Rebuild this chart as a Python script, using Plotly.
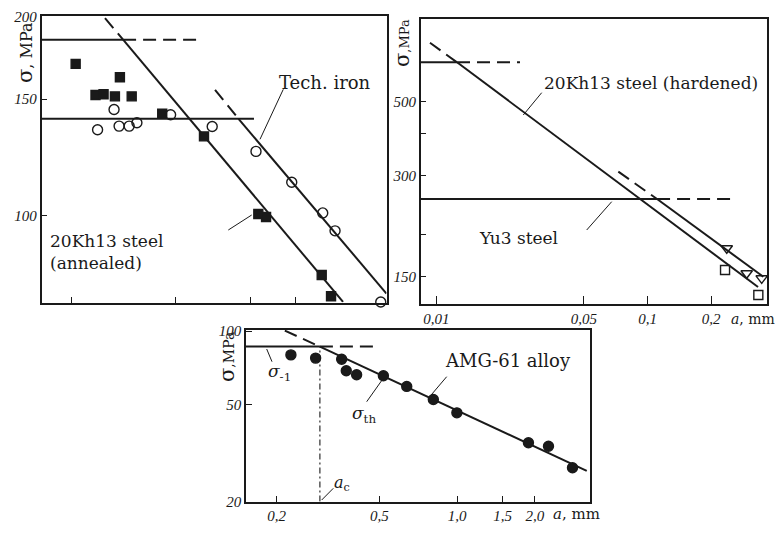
import plotly.graph_objects as go

W, H = 779, 533

# ---------------- Panel 1: 20Kh13 steel (annealed) and Tech. iron ----------------
p1_annealed_a = [0.0144, 0.0231, 0.0178, 0.0194, 0.0219, 0.0262, 0.0363, 0.0567, 0.1013, 0.1100, 0.1993, 0.2202]
p1_annealed_s = [169.6, 161.9, 152.2, 152.6, 151.5, 151.5, 142.6, 131.8, 100.6, 99.6, 81.4, 75.6]
p1_iron_a = [0.0217, 0.0182, 0.0229, 0.0255, 0.0277, 0.0397, 0.0619, 0.0988, 0.1447, 0.2015, 0.2298, 0.3744]
p1_iron_s = [144.7, 134.9, 136.6, 136.6, 138.2, 142.1, 136.4, 125.1, 112.4, 101.0, 94.9, 74.1]
# fatigue limits (horizontal) and threshold lines
p1_ann_lim_solid_a = [0.0100, 0.0239]
p1_ann_lim_dash_a = [0.0239, 0.0526]
p1_ann_lim_s = [184.5, 184.5]
p1_iron_lim_a = [0.0100, 0.0967]
p1_iron_lim_s = [140.1, 140.1]
p1_ann_th_dash_a = [0.0197, 0.0239]
p1_ann_th_dash_s = [198.9, 184.5]
p1_ann_th_solid_a = [0.0239, 0.2503]
p1_ann_th_solid_s = [184.5, 74.1]
p1_iron_th_dash_a = [0.0638, 0.0820]
p1_iron_th_dash_s = [155.0, 140.1]
p1_iron_th_solid_a = [0.0820, 0.3980]
p1_iron_th_solid_s = [140.1, 76.3]
p1_xticks = [0.0138, 0.042, 0.093, 0.15]
p1_yticks = [100, 150, 200]
p1_yticktext = ["100", "150", "200"]

# ---------------- Panel 2: 20Kh13 steel (hardened) and Yu3 steel ----------------
p2_hard_a = [0.2327, 0.3345]
p2_hard_s = [156.7, 131.9]
p2_yu3_a = [0.2371, 0.2947, 0.3471]
p2_yu3_s = [182.0, 153.2, 148.0]
p2_hard_lim_solid_a = [0.00843, 0.01253]
p2_hard_lim_dash_a = [0.01253, 0.02489]
p2_hard_lim_s = [654, 654]
p2_hard_th_dash_a = [0.00933, 0.01253]
p2_hard_th_dash_s = [748.5, 654]
p2_hard_th_solid_a = [0.01253, 0.3334]
p2_hard_th_solid_s = [654, 139.4]
p2_yu3_lim_solid_a = [0.00843, 0.1109]
p2_yu3_lim_dash_a = [0.1109, 0.2595]
p2_yu3_lim_s = [255.4, 255.4]
p2_yu3_th_dash_a = [0.0727, 0.1109]
p2_yu3_th_dash_s = [308.2, 255.4]
p2_yu3_th_solid_a = [0.1109, 0.3532]
p2_yu3_th_solid_s = [255.4, 149.6]
p2_xticks = [0.01, 0.05, 0.1, 0.2]
p2_xticktext = ["0,01", "0,05", "0,1", "0,2"]
p2_yticks = [150, 300, 500]
p2_yticktext = ["150", "300", "500"]
p2_yminor = [200, 400]

# ---------------- Panel 3: AMG-61 alloy ----------------
p3_a = [0.227, 0.283, 0.357, 0.372, 0.408, 0.518, 0.638, 0.809, 0.998, 1.89, 2.26, 2.80]
p3_s = [79.9, 77.5, 76.7, 68.8, 66.2, 65.6, 59.3, 52.4, 46.2, 34.8, 33.7, 27.5]
p3_lim_solid_a = [0.152, 0.294]
p3_lim_dash_a = [0.294, 0.473]
p3_lim_s = [86.4, 86.4]
p3_th_dash_a = [0.215, 0.294]
p3_th_dash_s = [100.5, 86.4]
p3_th_solid_a = [0.294, 3.18]
p3_th_solid_s = [86.4, 26.7]
p3_ac_a = [0.294, 0.294]
p3_ac_s = [20, 86.4]
p3_xticks = [0.2, 0.5, 1.0, 1.5, 2.0]
p3_xticktext = ["0,2", "0,5", "1,0", "1,5", "2,0"]
p3_yticks = [20, 50, 100]
p3_yticktext = ["20", "50", "100"]

INK = "#1a1a1a"
DASH = "13px,7px"


def px_dom(a, b):
    return [a / W, b / W]


def py_dom(top, bottom):
    return [1 - bottom / H, 1 - top / H]


fig = go.Figure()


def line(x, y, ax, dash="solid", width=2.0):
    fig.add_trace(go.Scatter(x=x, y=y, mode="lines", xaxis="x" + ax, yaxis="y" + ax,
                             line=dict(color=INK, width=width, dash=dash),
                             showlegend=False, hoverinfo="skip", cliponaxis=False))


def pts(x, y, ax, symbol, size):
    fig.add_trace(go.Scatter(x=x, y=y, mode="markers", xaxis="x" + ax, yaxis="y" + ax,
                             marker=dict(symbol=symbol, size=size, color=INK,
                                         line=dict(color=INK, width=1.4)),
                             showlegend=False, cliponaxis=False))


# panel 1
line(p1_ann_lim_solid_a, p1_ann_lim_s, "")
line(p1_ann_lim_dash_a, p1_ann_lim_s, "", DASH)
line(p1_iron_lim_a, p1_iron_lim_s, "")
line(p1_ann_th_dash_a, p1_ann_th_dash_s, "", DASH)
line(p1_ann_th_solid_a, p1_ann_th_solid_s, "")
line(p1_iron_th_dash_a, p1_iron_th_dash_s, "", DASH)
line(p1_iron_th_solid_a, p1_iron_th_solid_s, "")
pts(p1_annealed_a, p1_annealed_s, "", "square", 9)
pts(p1_iron_a, p1_iron_s, "", "circle-open", 10)

# panel 2
line(p2_hard_lim_solid_a, p2_hard_lim_s, "2")
line(p2_hard_lim_dash_a, p2_hard_lim_s, "2", DASH)
line(p2_hard_th_dash_a, p2_hard_th_dash_s, "2", DASH)
line(p2_hard_th_solid_a, p2_hard_th_solid_s, "2")
line(p2_yu3_lim_solid_a, p2_yu3_lim_s, "2")
line(p2_yu3_lim_dash_a, p2_yu3_lim_s, "2", DASH)
line(p2_yu3_th_dash_a, p2_yu3_th_dash_s, "2", DASH)
line(p2_yu3_th_solid_a, p2_yu3_th_solid_s, "2")
pts(p2_hard_a, p2_hard_s, "2", "square-open", 9)
pts(p2_yu3_a, p2_yu3_s, "2", "triangle-down-open", 10)

# panel 3
line(p3_lim_solid_a, p3_lim_s, "3")
line(p3_lim_dash_a, p3_lim_s, "3", DASH)
line(p3_th_dash_a, p3_th_dash_s, "3", DASH)
line(p3_th_solid_a, p3_th_solid_s, "3")
line(p3_ac_a, p3_ac_s, "3", "6px,3px,2px,3px", 1.1)
pts(p3_a, p3_s, "3", "circle", 10)

tickfont = dict(family="Liberation Serif", size=15, style="italic", color=INK)
common = dict(type="log", showgrid=False, zeroline=False, showline=True, linecolor=INK,
              linewidth=1.5, mirror=True, ticks="inside", ticklen=6, tickwidth=1.2,
              tickcolor=INK, tickfont=tickfont)

fig.update_layout(
    width=W, height=H, margin=dict(l=0, r=0, t=0, b=0, autoexpand=False),
    paper_bgcolor="white", plot_bgcolor="white",
    font=dict(family="DejaVu Serif", color=INK, size=16),
    xaxis=dict(common, domain=px_dom(41.5, 386.5), range=[-2.0, -0.4], anchor="y",
               tickvals=p1_xticks, showticklabels=False),
    yaxis=dict(common, domain=py_dom(16, 302.5), range=[1.869, 2.3018], anchor="x",
               tickvals=p1_yticks, ticktext=p1_yticktext),
    xaxis2=dict(common, domain=px_dom(420.7, 766.7), range=[-2.074, -0.436], anchor="y2",
                tickvals=p2_xticks, ticktext=p2_xticktext, ticklen=8),
    yaxis2=dict(common, domain=py_dom(19, 304), range=[2.0935, 2.945], anchor="x2",
                tickvals=p2_yticks, ticktext=p2_yticktext,
                minor=dict(tickmode="array", tickvals=p2_yminor, ticks="inside",
                           ticklen=6, tickwidth=1.2, tickcolor=INK, showgrid=False)),
    xaxis3=dict(common, domain=px_dom(246, 590), range=[-0.818, 0.515], anchor="y3",
                tickvals=p3_xticks, ticktext=p3_xticktext),
    yaxis3=dict(common, domain=py_dom(330, 501.7), range=[1.2998, 2.0047], anchor="x3",
                tickvals=p3_yticks, ticktext=p3_yticktext),
)


def txt(x, y, s, size=16, xanchor="center", angle=0, align="center"):
    return dict(x=x / W, y=1 - y / H, xref="paper", yref="paper", text=s, showarrow=False,
                font=dict(size=size), xanchor=xanchor, yanchor="middle", textangle=angle,
                align=align)


sig = '<span style="font-size:21px">σ</span>'
annotations = [
    txt(325, 83, "Tech. iron", 18),
    txt(48, 252, "20Kh13 steel<br>(annealed)", 17, xanchor="left", align="left"),
    txt(651, 83, "20Kh13 steel (hardened)", 17),
    txt(518, 238, "Yu3 steel", 17),
    txt(508, 360, "AMG-61 alloy", 18),
    txt(25, 53, sig + ", MPa", 16, angle=-90),
    txt(402, 43, sig + ",MPa", 13, angle=-90),
    txt(227, 357, sig + ",MPa", 14, angle=-90),
    txt(753, 319, "<i>a</i>, mm", 14),
    txt(576, 514, "<i>a</i>, mm", 15),
    txt(279, 372, "<i>σ</i><sub>-1</sub>", 17),
    txt(364, 414, "<i>σ</i><sub>th</sub>", 17),
    txt(342, 483, "<i>a</i><sub>c</sub>", 16),
]
fig.update_layout(annotations=annotations)


def leader(x0, y0, x1, y1):
    return dict(type="line", xref="paper", yref="paper", x0=x0 / W, y0=1 - y0 / H,
                x1=x1 / W, y1=1 - y1 / H, line=dict(color=INK, width=1))


fig.update_layout(shapes=[
    leader(283.3, 89.3, 260, 139.3),
    leader(228.3, 230, 251.7, 215),
    leader(541.7, 92.7, 523.3, 115),
    leader(586.7, 230, 611.7, 201.7),
    leader(446.7, 376.7, 428.3, 398.3),
    leader(366.7, 401.7, 383.3, 378.3),
    leader(266.7, 349, 272, 361.7),
    leader(333.3, 488.3, 321.7, 500),
])

fig.write_html("out.html", config={"displayModeBar": False},
               post_script="document.body.style.margin='0';document.body.style.overflow='hidden';")
